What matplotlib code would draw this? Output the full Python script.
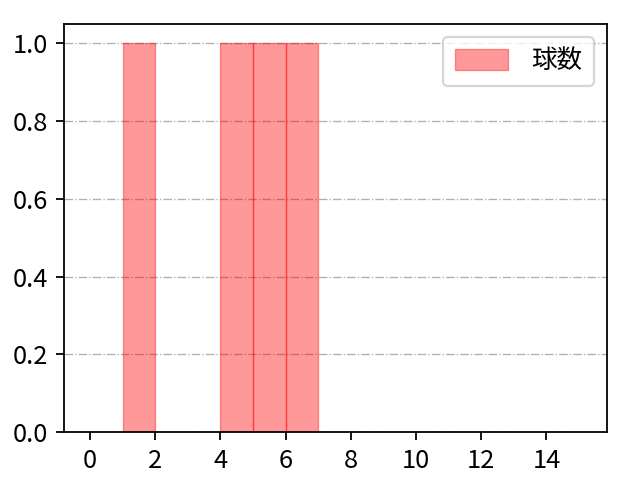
import matplotlib
matplotlib.use('Agg')
import matplotlib.pyplot as plt
import numpy as np

plt.rcParams['font.family'] = ['Noto Sans CJK JP', 'DejaVu Sans']
plt.rcParams['font.size'] = 12

# pitch counts per bin (bin start -> count)
bin_edges = list(range(0, 16))
pitch_values = [1.5, 4.5, 5.5, 6.5]

fig, ax = plt.subplots(figsize=(4, 3), dpi=160)
ax.hist(pitch_values, bins=bin_edges, color='red', alpha=0.4,
        edgecolor='red', linewidth=0.6, label='球数')

ax.set_xlim(-0.8, 15.85)
ax.set_ylim(0, 1.05)
ax.set_xticks(range(0, 16, 2))
ax.tick_params(labelsize=11.5)
ax.grid(axis='y', linestyle='-.', color='#b0b0b0', linewidth=0.6)
ax.set_axisbelow(True)
ax.legend(loc='upper right', fontsize=11.5, borderpad=0.45,
          handleheight=0.85, handlelength=2.1, handletextpad=0.9)

plt.subplots_adjust(left=0.1, right=0.948, top=0.95, bottom=0.1)
plt.savefig('out.png', dpi=160)
